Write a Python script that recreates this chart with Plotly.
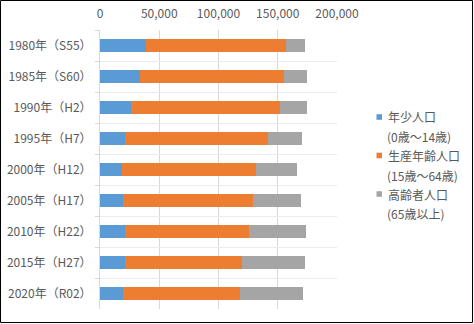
import plotly.graph_objects as go

categories = ["1980年（S55）", "1985年（S60）", "1990年（H2）", "1995年（H7）", "2000年（H12）",
              "2005年（H17）", "2010年（H22）", "2015年（H27）", "2020年（R02）"]
young = [38900, 33800, 26500, 21400, 18600, 19700, 21400, 21400, 19700]
working = [118200, 121600, 125500, 120500, 113200, 109800, 104700, 98500, 98500]
elderly = [16000, 19400, 22800, 28700, 34600, 40300, 47900, 53200, 53300]
series_names = ["年少人口", "生産年齢人口", "高齢者人口"]
series_ranges = ["(0歳～14歳)", "(15歳～64歳)", "(65歳以上)"]
colors = ["#5b9bd5", "#ed7d31", "#a5a5a5"]
x_ticks = [0, 50000, 100000, 150000, 200000]
x_ticklabels = ["0", "50,000", "100,000", "150,000", "200,000"]

W, H = 474, 324
ML, MR, MT, MB = 100, 137, 30, 15
PW, PH = W - ML - MR, H - MT - MB

font_family = "Noto Sans CJK JP, Noto Sans, sans-serif"
text_color = "#595959"


def px_x(p):
    return (p - ML) / PW


def px_y(p):
    return (H - MB - p) / PH


fig = go.Figure()
for vals, name, rng, col in zip([young, working, elderly], series_names, series_ranges, colors):
    fig.add_trace(go.Bar(y=categories, x=vals, orientation="h", name=name + rng,
                         marker=dict(color=col, line=dict(width=0)), showlegend=False))

# legend drawn as shapes + text
legend_top = 117
item_pitch = 38.5
line_pitch = 19.5
for i, (name, rng, col) in enumerate(zip(series_names, series_ranges, colors)):
    yc = legend_top + i * item_pitch
    fig.add_shape(type="rect", xref="paper", yref="paper",
                  x0=px_x(376.5), x1=px_x(382), y0=px_y(yc - 2.8), y1=px_y(yc + 2.8),
                  line=dict(width=0), fillcolor=col)
    fig.add_annotation(xref="paper", yref="paper", x=px_x(386), y=px_y(yc),
                       xanchor="left", yanchor="middle", text=name, showarrow=False,
                       font=dict(size=12, color=text_color))
    fig.add_annotation(xref="paper", yref="paper", x=px_x(385), y=px_y(yc + line_pitch),
                       xanchor="left", yanchor="middle", text=rng, showarrow=False,
                       font=dict(size=12, color=text_color))

fig.add_shape(type="rect", xref="paper", yref="paper",
              x0=px_x(0.5), x1=px_x(472.5), y0=px_y(0.5), y1=px_y(322.5),
              line=dict(color="#000000", width=1), fillcolor="rgba(0,0,0,0)", layer="above")

fig.update_layout(
    width=W, height=H,
    margin=dict(l=ML, r=MR, t=MT, b=MB, autoexpand=False),
    barmode="stack", bargap=0.58,
    plot_bgcolor="white", paper_bgcolor="white",
    font=dict(family=font_family, size=12, color=text_color),
    showlegend=False,
    xaxis=dict(side="top", range=[0, 200000], tickvals=x_ticks, ticktext=x_ticklabels,
               showgrid=True, gridcolor="#d9d9d9", gridwidth=1, zeroline=False,
               showline=False, ticks="", ticklabelstandoff=9,
               tickfont=dict(size=12, color=text_color), fixedrange=True),
    yaxis=dict(autorange="reversed", showgrid=True, gridcolor="#ececec", tickson="boundaries",
               ticks="outside", ticklen=4, tickcolor="#d9d9d9", showline=True, linecolor="#d9d9d9",
               ticklabelstandoff=5,
               tickfont=dict(size=12, color=text_color), fixedrange=True),
)

fig.write_html("out.html")
